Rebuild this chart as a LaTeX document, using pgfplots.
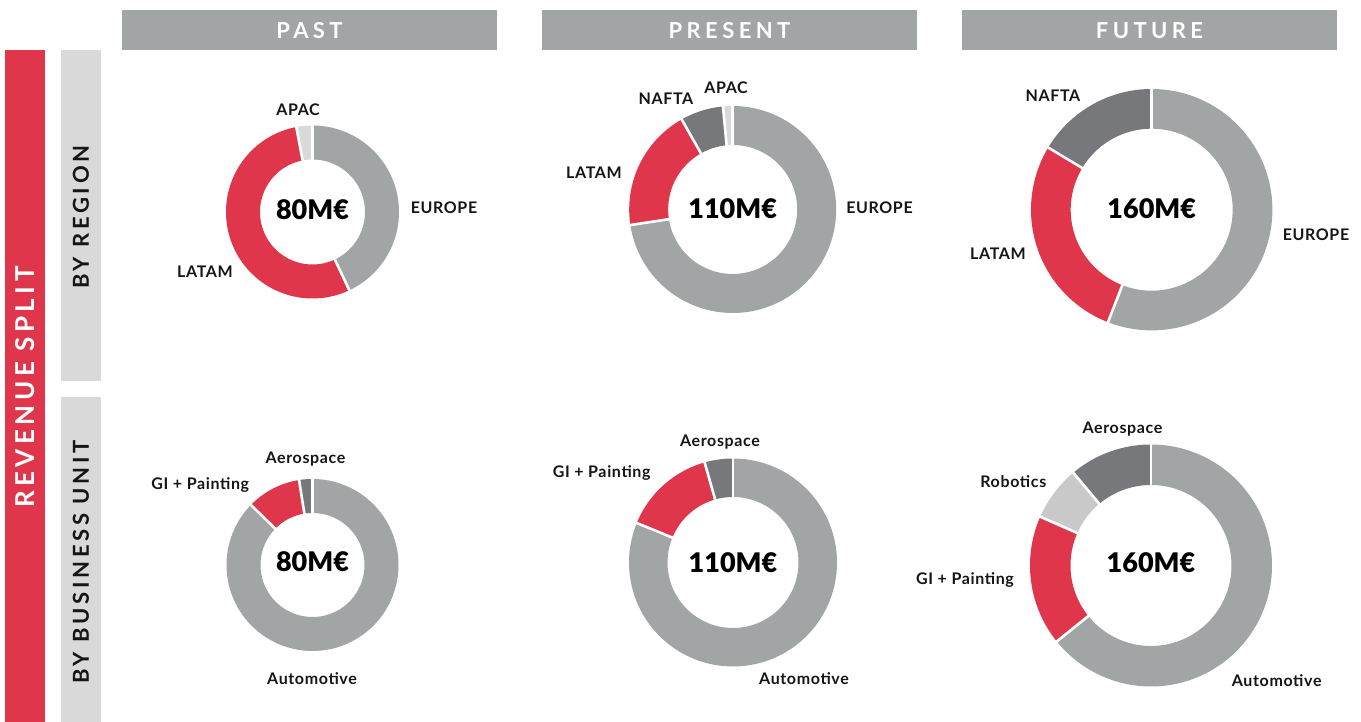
\documentclass[border=0pt]{standalone}
\usepackage{pgfplots}
\pgfplotsset{compat=1.18}
\usepgfplotslibrary{polar}
\usepackage{fontspec}
\setmainfont{Lato}
\newfontfamily\trk[LetterSpace=20]{Lato}
\newfontfamily\trks[LetterSpace=17]{Lato}
\newfontfamily\lbl[LetterSpace=4]{Lato}
\newfontfamily\lblack{Lato Black}
\definecolor{cgrey}{HTML}{A2A5A5}
\definecolor{cred}{HTML}{E0364B}
\definecolor{cdark}{HTML}{77787C}
\definecolor{clight}{HTML}{D9D9D9}
\definecolor{crob}{HTML}{C8C9C8}
\definecolor{ctext}{HTML}{151515}
% every donut axis: radius unit = 1pt, circle of radius 150pt (hidden)
\pgfplotsset{donut/.style={hide axis, scale only axis, anchor=center,
  width=300pt, height=300pt, xmin=0, xmax=360, ymin=0, ymax=150,
  clip=false, enlargelimits=false}}
% segment: colour, from %, to %, mid radius, thickness
\newcommand\seg[5]{\addplot[draw=#1, line width=#5pt, domain=90-3.6*(#3):90-3.6*(#2),
  samples=120, mark=none, forget plot] {#4};}
% separator: at %, inner radius, outer radius
\newcommand\sep[3]{\pgfmathsetmacro\sepang{90-3.6*(#1)}%
  \addplot[white, line width=2.6pt, mark=none, forget plot] coordinates {(\sepang,#2) (\sepang,#3)};}
\newcommand\lab[3]{\node[anchor=base, inner sep=0pt, text=ctext, font=\lbl\bfseries\fontsize{16}{16}\selectfont] at (#1,#2) {#3};}
\newcommand\ctr[3]{\node[anchor=base, inner sep=0pt, text=black, font=\lblack\fontsize{27}{27}\selectfont] at (#1,#2) {#3};}
\begin{document}
\begin{tikzpicture}[x=1pt,y=1pt]
\useasboundingbox (0,0) rectangle (1361,722);
% side bars
\fill[cred] (5,0) rectangle (45,672);
\fill[clight] (61,341) rectangle (101,672);
\fill[clight] (61,0) rectangle (101,325);
\node[rotate=90, inner sep=0pt, text=white, font=\trks\bfseries\fontsize{26}{26}\selectfont] at (25,335) {REVENUE SPLIT};
\node[rotate=90, inner sep=0pt, text=ctext, font=\trks\bfseries\fontsize{22}{22}\selectfont] at (81,505) {BY REGION};
\node[rotate=90, inner sep=0pt, text=ctext, font=\trks\bfseries\fontsize{22}{22}\selectfont] at (81,160) {BY BUSINESS UNIT};
% headers
\fill[cgrey] (122,672) rectangle (497,712);
\fill[cgrey] (542,672) rectangle (917,712);
\fill[cgrey] (962,672) rectangle (1337,712);
\node[anchor=base, inner sep=0pt, text=white, font=\trk\bfseries\fontsize{22}{22}\selectfont] at (309.5,683.7) {PAST};
\node[anchor=base, inner sep=0pt, text=white, font=\trk\bfseries\fontsize{22}{22}\selectfont] at (729.5,683.7) {PRESENT};
\node[anchor=base, inner sep=0pt, text=white, font=\trk\bfseries\fontsize{22}{22}\selectfont] at (1149.5,683.7) {FUTURE};

% ---------- BY REGION ----------
% PAST: EUROPE 43, LATAM 54, APAC 3
\begin{polaraxis}[donut, at={(312.5,510)}]
\seg{cgrey}{0}{43}{69.5}{34}
\seg{cred}{43}{97}{69.5}{34}
\seg{clight}{97}{100}{69.5}{34}
\sep{0}{51}{88}\sep{43}{51}{88}\sep{97}{51}{88}
\end{polaraxis}
% PRESENT: EUROPE 72.6, LATAM 19.2, NAFTA 6.7, APAC 1.5
\begin{polaraxis}[donut, at={(732.7,512.5)}]
\seg{cgrey}{0}{72.6}{84}{39}
\seg{cred}{72.6}{91.8}{84}{39}
\seg{cdark}{91.8}{98.5}{84}{39}
\seg{clight}{98.5}{100}{84}{39}
\sep{0}{63}{105}\sep{72.6}{63}{105}\sep{91.8}{63}{105}\sep{98.5}{63}{105}
\end{polaraxis}
% FUTURE: EUROPE 55.9, LATAM 27.7, NAFTA 16.4
\begin{polaraxis}[donut, at={(1151.7,512.3)}]
\seg{cgrey}{0}{55.9}{100.85}{39.7}
\seg{cred}{55.9}{83.6}{100.85}{39.7}
\seg{cdark}{83.6}{100}{100.85}{39.7}
\sep{0}{79}{122}\sep{55.9}{79}{122}\sep{83.6}{79}{122}
\end{polaraxis}

% ---------- BY BUSINESS UNIT ----------
% PAST: Automotive 87.3, GI 10.2, Aerospace 2.5
\begin{polaraxis}[donut, at={(312.5,157)}]
\seg{cgrey}{0}{87.3}{69}{34}
\seg{cred}{87.3}{97.5}{69}{34}
\seg{cdark}{97.5}{100}{69}{34}
\sep{0}{50}{88}\sep{87.3}{50}{88}\sep{97.5}{50}{88}
\end{polaraxis}
% PRESENT: Automotive 81.2, GI 14.4, Aerospace 4.4
\begin{polaraxis}[donut, at={(733,159.5)}]
\seg{cgrey}{0}{81.2}{84.75}{38.5}
\seg{cred}{81.2}{95.6}{84.75}{38.5}
\seg{cdark}{95.6}{100}{84.75}{38.5}
\sep{0}{64}{106}\sep{81.2}{64}{106}\sep{95.6}{64}{106}
\end{polaraxis}
% FUTURE: Automotive 64.2, GI 17.4, Robotics 7.3, Aerospace 11.1
\begin{polaraxis}[donut, at={(1151,156.5)}]
\seg{cgrey}{0}{64.2}{100.75}{40.5}
\seg{cred}{64.2}{81.6}{100.75}{40.5}
\seg{crob}{81.6}{88.9}{100.75}{40.5}
\seg{cdark}{88.9}{100}{100.75}{40.5}
\sep{0}{79}{123}\sep{64.2}{79}{123}\sep{81.6}{79}{123}\sep{88.9}{79}{123}
\end{polaraxis}

% centre values
\ctr{312.5}{502.7}{80M€}
\ctr{732.7}{503.7}{110M€}
\ctr{1151.7}{503.7}{160M€}
\ctr{312.5}{150.3}{80M€}
\ctr{733}{149.3}{110M€}
\ctr{1151}{149.3}{160M€}

% labels
\lab{298}{606}{APAC}
\lab{444}{508.7}{EUROPE}
\lab{205}{444.7}{LATAM}
\lab{666}{617}{NAFTA}
\lab{726}{628}{APAC}
\lab{594}{543}{LATAM}
\lab{879.5}{508.7}{EUROPE}
\lab{1053}{620.3}{NAFTA}
\lab{998}{462}{LATAM}
\lab{1316}{481.3}{EUROPE}
\lab{305.5}{258.7}{Aerospace}
\lab{200.3}{232}{GI + Painting}
\lab{312}{37}{Automotive}
\lab{720}{275.3}{Aerospace}
\lab{601.7}{244.7}{GI + Painting}
\lab{804}{37}{Automotive}
\lab{1122.5}{288}{Aerospace}
\lab{1013.3}{234.3}{Robotics}
\lab{965}{137.7}{GI + Painting}
\lab{1276.7}{35.3}{Automotive}
\end{tikzpicture}
\end{document}
